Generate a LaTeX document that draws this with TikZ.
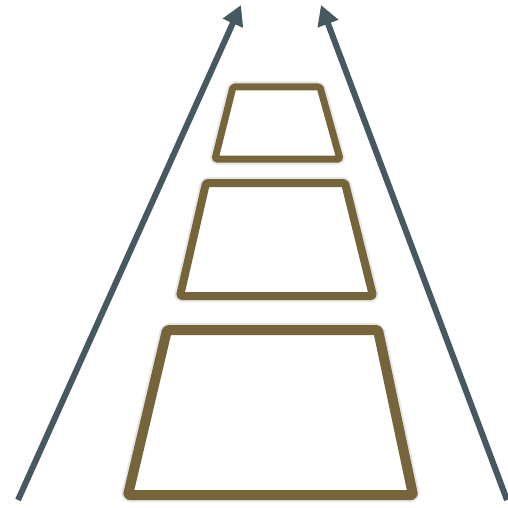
\documentclass[tikz,border=0pt]{standalone}
\usepackage{xcolor}
\usetikzlibrary{arrows.meta}
\definecolor{slate}{HTML}{465961}
\definecolor{olive}{HTML}{76643A}
\definecolor{halo}{HTML}{9A9A9A}
\tikzset{
  tier/.style={draw=olive, fill=white, line join=round, rounded corners=1.5pt},
  glow/.style={draw=halo, draw opacity=0.25, line join=round, rounded corners=2pt},
  rise/.style={draw=slate, line width=6pt, -{Triangle[length=20pt, width=21pt]}},
}
\begin{document}
\begin{tikzpicture}[x=1pt, y=-1pt]
\useasboundingbox (0,0) rectangle (508,508);
% arrows
\coordinate (lfoot) at (18,500);
\coordinate (ltip) at (241,5);
\coordinate (rfoot) at (507,500);
\coordinate (rtip) at (321,5);
\draw[rise] (lfoot) -- (ltip);
\draw[rise] (rfoot) -- (rtip);
% tiers, top to bottom: top-left, top-right, bottom-right, bottom-left, width
\foreach \tl/\tr/\ty/\bl/\br/\by/\w in {
  233/320/87/215/340/159/7,
  206/345/183/180/373/296/8,
  167/378/330/128/413/495/10}{
  \draw[glow, line width=\w pt+4pt] (\tl,\ty) -- (\tr,\ty) -- (\br,\by) -- (\bl,\by) -- cycle;
  \draw[tier, line width=\w pt] (\tl,\ty) -- (\tr,\ty) -- (\br,\by) -- (\bl,\by) -- cycle;
}
\end{tikzpicture}
\end{document}
